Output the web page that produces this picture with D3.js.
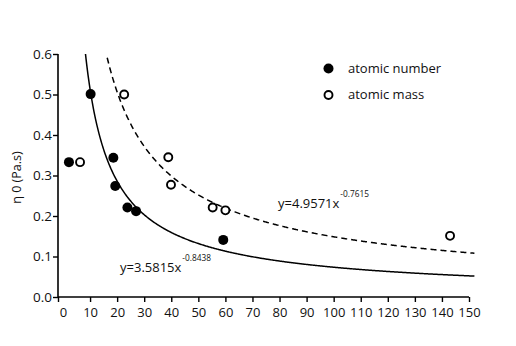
<!DOCTYPE html>
<html>
<head>
<meta charset="utf-8">
<script src="https://cdn.jsdelivr.net/npm/d3@7"></script>
<style>
  html, body { margin: 0; padding: 0; background: #fff; }
  svg { display: block; font-family: "Open Sans", "Noto Sans", sans-serif; }
</style>
</head>
<body>
<svg id="chart" width="516" height="346"></svg>
<script>
// Viscosity η0 against atomic number / atomic mass
const numberX = [2.2, 10.2, 18.6, 19.3, 23.8, 27.0, 59.2];
const numberY = [0.333, 0.501, 0.344, 0.274, 0.221, 0.212, 0.141];
const massX = [6.3, 22.6, 38.9, 39.9, 55.3, 60.0, 143.0];
const massY = [0.333, 0.500, 0.345, 0.277, 0.221, 0.214, 0.151];

// power-law fits y = a * x^b
const fitNames = ["number", "mass"];
const fitA = [3.5815, 4.9571];
const fitB = [-0.8438, -0.7615];
const fitLabels = ["y=3.5815x", "y=4.9571x"];
const fitExps = ["-0.8438", "-0.7615"];

const xTicks = [0, 10, 20, 30, 40, 50, 60, 70, 80, 90, 100, 110, 120, 130, 140, 150];
const yTicks = [0.0, 0.1, 0.2, 0.3, 0.4, 0.5, 0.6];
const legendLabels = ["atomic number", "atomic mass"];

const svg = d3.select("#chart");
const ink = "#000";
const textInk = "#111";

const x = d3.scaleLinear().domain([0, 150]).range([63, 469]);
const y = d3.scaleLinear().domain([0, 0.6]).range([297, 54]);
const axisX0 = 58;

// axes
const gx = svg.append("g").attr("transform", `translate(0,${y(0)})`)
  .call(d3.axisBottom(x).tickValues(xTicks).tickSize(5).tickSizeOuter(0).tickPadding(6)
    .tickFormat(d3.format("d")));
gx.select(".domain").remove();
gx.selectAll(".tick line").attr("stroke", ink).attr("stroke-width", 1.4)
  .filter(d => d === 0).attr("transform", `translate(${axisX0 - x(0)},0)`);
gx.selectAll(".tick text").attr("font-size", 13).attr("fill", textInk)
  .attr("font-family", "Open Sans");

const gy = svg.append("g").attr("transform", `translate(${axisX0},0)`)
  .call(d3.axisLeft(y).tickValues(yTicks).tickSize(5).tickSizeOuter(0).tickPadding(1)
    .tickFormat(d3.format(".1f")));
gy.select(".domain").remove();
gy.selectAll(".tick line").attr("stroke", ink).attr("stroke-width", 1.4);
gy.selectAll(".tick text").attr("font-size", 13.5).attr("fill", textInk)
  .attr("font-family", "Open Sans").attr("dy", "0.3em");

svg.append("line").attr("x1", axisX0).attr("x2", x(150))
  .attr("y1", y(0)).attr("y2", y(0)).attr("stroke", ink).attr("stroke-width", 1.6);
svg.append("line").attr("x1", axisX0).attr("x2", axisX0)
  .attr("y1", y(0.6)).attr("y2", y(0)).attr("stroke", ink).attr("stroke-width", 1.6);

svg.append("text")
  .attr("transform", `translate(21,${(y(0) + y(0.6)) / 2 + 2}) rotate(-90)`)
  .attr("text-anchor", "middle").attr("font-size", 12.5).attr("fill", textInk)
  .text("η 0 (Pa.s)");

// fitted curves, clipped to the plot box
svg.append("clipPath").attr("id", "plotclip").append("rect")
  .attr("x", axisX0).attr("y", y(0.6)).attr("width", 480 - axisX0).attr("height", y(0) - y(0.6));

const curveXs = d3.range(1, 152.01, 0.25);
const line = d3.line().x(d => x(d[0])).y(d => y(d[1]));
fitNames.forEach((name, i) => {
  const pts = curveXs.map(v => [v, fitA[i] * Math.pow(v, fitB[i])])
    .filter(p => p[1] <= 0.62);
  svg.append("path")
    .attr("clip-path", "url(#plotclip)")
    .attr("d", line(pts))
    .attr("fill", "none")
    .attr("stroke", ink)
    .attr("stroke-width", 1.5)
    .attr("stroke-dasharray", name === "mass" ? "6,4" : null);
});

// data points
svg.append("g").selectAll("circle").data(numberX).join("circle")
  .attr("cx", (d) => x(d)).attr("cy", (d, i) => y(numberY[i]))
  .attr("r", 5).attr("fill", ink);
svg.append("g").selectAll("circle").data(massX).join("circle")
  .attr("cx", (d) => x(d)).attr("cy", (d, i) => y(massY[i]))
  .attr("r", 4).attr("fill", "#fff").attr("stroke", ink).attr("stroke-width", 1.9);

// equation labels
const eqPos = [[120, 272], [278, 208]];
fitLabels.forEach((lab, i) => {
  const t = svg.append("text").attr("x", eqPos[i][0]).attr("y", eqPos[i][1])
    .attr("font-size", 13).attr("fill", textInk);
  t.append("tspan").text(lab);
  t.append("tspan").attr("dx", 1).attr("dy", -11).attr("font-size", 8.3).text(fitExps[i]);
});

// legend
const legendY = [68.5, 95];
legendLabels.forEach((lab, i) => {
  const c = svg.append("circle").attr("cx", 328.5).attr("cy", legendY[i]);
  if (i === 0) c.attr("r", 5).attr("fill", ink);
  else c.attr("r", 4).attr("fill", "#fff").attr("stroke", ink).attr("stroke-width", 1.9);
  svg.append("text").attr("x", 348).attr("y", legendY[i] + 4.3)
    .attr("font-size", 13).attr("fill", textInk).text(lab);
});
</script>
</body>
</html>
